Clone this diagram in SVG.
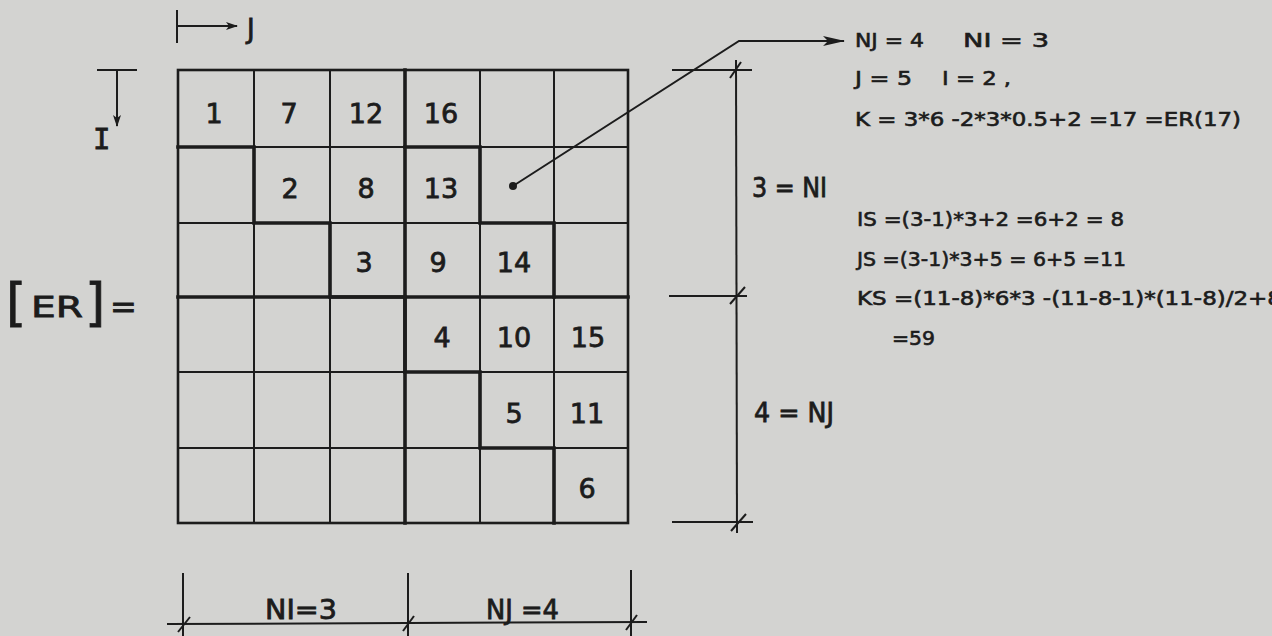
<svg xmlns="http://www.w3.org/2000/svg" width="1272" height="636" viewBox="0 0 1272 636">
<defs>
<marker id="ah" viewBox="0 0 12 8" refX="11" refY="4" markerWidth="12" markerHeight="8" markerUnits="userSpaceOnUse" orient="auto">
<path d="M0,0 L12,4 L0,8 L3,4 Z" fill="#1c1c1c"/>
</marker>
<marker id="ahbig" viewBox="0 0 22 10" refX="21" refY="5" markerWidth="22" markerHeight="10" markerUnits="userSpaceOnUse" orient="auto">
<path d="M0,0 L22,5 L0,10 L5,5 Z" fill="#1c1c1c"/>
</marker>
<style>
.bg{fill:#d3d3d1}
.thin{stroke:#1c1c1c;stroke-width:2;fill:none}
.thick{stroke:#1c1c1c;stroke-width:3.6;fill:none;stroke-linejoin:miter;stroke-linecap:square}
.dim{stroke:#1c1c1c;stroke-width:2;fill:none}
.num{font-family:"DejaVu Sans","Liberation Sans",sans-serif;font-size:27px;fill:#1c1c1c;stroke:#1c1c1c;stroke-width:0.8;text-anchor:middle}
.lab{font-family:"DejaVu Sans","Liberation Sans",sans-serif;font-size:26px;fill:#1c1c1c;stroke:#1c1c1c;stroke-width:0.8}
.eq{font-family:"DejaVu Sans","Liberation Sans",sans-serif;font-size:19px;fill:#1c1c1c;stroke:#1c1c1c;stroke-width:0.6}
.mono{font-family:"DejaVu Sans Mono","Liberation Mono",monospace;font-size:29px;fill:#1c1c1c;stroke:#1c1c1c;stroke-width:0.8}
.big{font-size:52px}
</style>
</defs>
<rect class="bg" x="0" y="0" width="1272" height="636"/>

<g id="axis-j">
<line class="dim" x1="177" y1="10" x2="177" y2="43"/>
<line class="dim" x1="177" y1="26" x2="237" y2="26" marker-end="url(#ah)"/>
<text class="lab" x="247" y="38">J</text>
</g>

<g id="axis-i">
<line class="dim" x1="97" y1="70" x2="137" y2="70"/>
<line class="dim" x1="117" y1="70" x2="117" y2="126" marker-end="url(#ah)"/>
<text class="mono" x="93" y="149">I</text>
</g>

<g id="er-label">
<text class="lab big" x="6" y="320">[</text>
<text class="lab" x="31" y="317" style="font-size:29px" textLength="52" lengthAdjust="spacingAndGlyphs">ER</text>
<text class="lab big" x="85" y="320">]</text>
<text class="lab" x="110" y="318" style="font-size:32px">=</text>
</g>

<g id="matrix">
<rect class="thin" x="178" y="70" width="450" height="453" style="stroke-width:2.6"/>
<path class="thin" d="M254,70 V523 M330,70 V523 M480,70 V523 M554,70 V523 M178,147 H628 M178,223 H628 M178,372 H628 M178,448 H628"/>
<path class="thick" d="M178,297 H628 M405,70 V523"/>
<path class="thick" d="M178,147 H254 V223 H330 V297 H405 V372 H480 V448 H554 V523"/>
<path class="thick" d="M405,147 H480 V223 H554 V297"/>
<text class="num" x="214" y="123">1</text>
<text class="num" x="289" y="123">7</text>
<text class="num" x="366" y="123">12</text>
<text class="num" x="441" y="123">16</text>
<text class="num" x="290" y="198">2</text>
<text class="num" x="366" y="198">8</text>
<text class="num" x="441" y="198">13</text>
<text class="num" x="364" y="272">3</text>
<text class="num" x="438" y="272">9</text>
<text class="num" x="514" y="272">14</text>
<text class="num" x="442" y="347">4</text>
<text class="num" x="514" y="347">10</text>
<text class="num" x="588" y="347">15</text>
<text class="num" x="514" y="423">5</text>
<text class="num" x="587" y="423">11</text>
<text class="num" x="587" y="498">6</text>
</g>

<g id="dim-right">
<line class="dim" x1="736" y1="60" x2="737" y2="533"/>
<line class="dim" x1="672" y1="70" x2="752" y2="70"/>
<line class="dim" x1="669" y1="296" x2="747" y2="296"/>
<line class="dim" x1="672" y1="522" x2="753" y2="522"/>
<line class="dim" x1="730" y1="78" x2="741" y2="62"/>
<line class="dim" x1="730" y1="304" x2="745" y2="287"/>
<line class="dim" x1="731" y1="531" x2="746" y2="514"/>
<text class="lab" x="752" y="197" textLength="75" lengthAdjust="spacingAndGlyphs">3 = NI</text>
<text class="lab" x="754" y="422" textLength="80" lengthAdjust="spacingAndGlyphs">4 = NJ</text>
</g>

<g id="dim-bottom">
<line class="dim" x1="167" y1="624" x2="647" y2="622"/>
<line class="dim" x1="183" y1="573" x2="183" y2="636"/>
<line class="dim" x1="408" y1="573" x2="408" y2="636"/>
<line class="dim" x1="631" y1="570" x2="631" y2="636"/>
<line class="dim" x1="178" y1="632" x2="190" y2="617"/>
<line class="dim" x1="403" y1="631" x2="414" y2="616"/>
<line class="dim" x1="626" y1="630" x2="637" y2="615"/>
<text class="lab" x="265" y="619" textLength="72" lengthAdjust="spacingAndGlyphs">NI=3</text>
<text class="lab" x="486" y="619" textLength="73" lengthAdjust="spacingAndGlyphs">NJ =4</text>
</g>

<g id="connectors">
<circle cx="513" cy="186" r="4" fill="#1c1c1c"/>
<polyline class="dim" points="513,186 739,41 844,41" marker-end="url(#ahbig)"/>
</g>

<g id="formulas">
<text class="eq" x="855" y="47" textLength="69" lengthAdjust="spacingAndGlyphs">NJ = 4</text>
<text class="eq" x="963" y="47" textLength="86" lengthAdjust="spacingAndGlyphs">NI = 3</text>
<text class="eq" x="855" y="85" textLength="57" lengthAdjust="spacingAndGlyphs">J = 5</text>
<text class="eq" x="942" y="85" textLength="69" lengthAdjust="spacingAndGlyphs">I = 2 ,</text>
<text class="eq" x="855" y="126" textLength="386" lengthAdjust="spacingAndGlyphs">K = 3*6 -2*3*0.5+2 =17 =ER(17)</text>
<text class="eq" x="857" y="226" textLength="267" lengthAdjust="spacingAndGlyphs">IS =(3-1)*3+2 =6+2 = 8</text>
<text class="eq" x="857" y="266" textLength="269" lengthAdjust="spacingAndGlyphs">JS =(3-1)*3+5 = 6+5 =11</text>
<text class="eq" x="857" y="305" textLength="425" lengthAdjust="spacingAndGlyphs">KS =(11-8)*6*3 -(11-8-1)*(11-8)/2+8</text>
<text class="eq" x="892" y="345" textLength="43" lengthAdjust="spacingAndGlyphs">=59</text>
</g>
</svg>
